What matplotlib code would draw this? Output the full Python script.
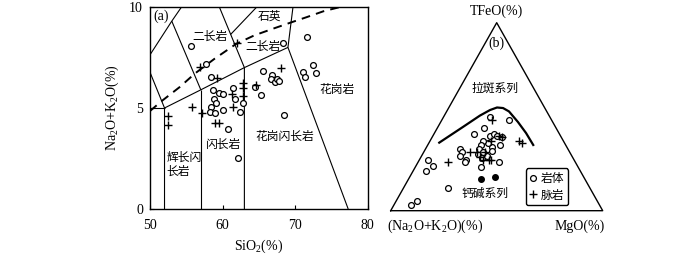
import numpy as np
import matplotlib
matplotlib.use('Agg')
import matplotlib.pyplot as plt
from matplotlib.lines import Line2D
from matplotlib.font_manager import FontProperties

plt.rcParams['font.family'] = ['Liberation Serif', 'Noto Sans CJK SC', 'DejaVu Sans']
plt.rcParams['mathtext.fontset'] = 'custom'
plt.rcParams['mathtext.rm'] = 'Liberation Serif'
plt.rcParams['mathtext.it'] = 'Liberation Serif:italic'
CJK = ['Noto Sans CJK SC', 'DejaVu Sans']

# ---------------- Panel (a): TAS data ----------------
rock_sio2 = [55.6, 57.7, 58.4, 58.7, 59.55, 60.0, 61.5, 61.7, 62.85, 58.85, 59.1, 58.4,
             58.25, 58.95, 60.1, 62.4, 60.7, 62.15, 65.5, 66.85, 66.6, 67.2, 67.55, 67.8,
             64.45, 65.3, 68.5, 68.35, 71.65, 72.5, 72.85, 71.05, 71.35]
rock_alk = [8.07, 7.16, 6.55, 5.89, 5.73, 5.69, 5.98, 5.43, 5.26, 5.45, 5.26, 5.03,
            4.82, 4.77, 4.90, 4.82, 3.96, 2.51, 6.83, 6.65, 6.42, 6.29, 6.42, 6.35,
            6.04, 5.64, 4.65, 8.20, 8.50, 7.13, 6.75, 6.80, 6.55]
dyke_sio2 = [62.0, 56.9, 59.2, 62.85, 62.85, 62.75, 61.4, 55.75, 57.1, 52.5, 52.45,
             68.05, 64.6, 58.95, 59.55, 61.3]
dyke_alk = [8.20, 7.04, 6.47, 6.22, 5.98, 5.59, 5.06, 5.03, 4.77, 4.60, 4.16,
            6.97, 6.12, 4.24, 4.24, 5.70]

# classification boundaries (SiO2, Na2O+K2O)
boundaries = [
    [(49.4, 7.3), (53, 9.3), (57.6, 11.7)],
    [(53, 9.3), (57, 5.9)],
    [(49.4, 7.3), (52, 5)],
    [(45, 5), (52, 5)],
    [(52, 0), (52, 5), (57, 5.9), (63, 7), (69, 8), (77.3, 0)],
    [(57, 0), (57, 5.9)],
    [(63, 0), (63, 7), (57.6, 11.7)],
    [(61.1, 8.64), (65.5, 10.3)],
    [(69, 8), (69.8, 10.3)],
]
alk_line_sio2 = [50.0, 51.56, 54.1, 56.16, 58.9, 61.9, 64.4, 66.98, 69.3, 71.6, 73.9, 76.2, 77.0]
alk_line_alk = [4.85, 5.33, 6.04, 6.70, 7.44, 8.18, 8.60, 8.93, 9.22, 9.50, 9.79, 10.0, 10.08]

field_labels = [
    ("(a)", 51.6, 9.52, 'serif'),
    ("二长岩", 58.2, 8.53, 'cjk'),
    ("石英", 66.5, 9.55, 'cjk'),
    ("二长岩", 65.6, 8.03, 'cjk'),
    ("花岗岩", 75.7, 5.93, 'cjk'),
    ("花岗闪长岩", 68.6, 3.61, 'cjk'),
    ("闪长岩", 60.0, 3.22, 'cjk'),
]

x_ticks = [50, 60, 70, 80]
y_ticks = [0, 5, 10]

# ---------------- Panel (b): AFM data ----------------
rock_A = [28, 20, 34, 40, 33, 31, 30, 28, 31, 35, 36, 36, 38, 42, 44, 43, 51, 51, 53, 51,
          52, 40, 46, 36, 69, 68, 73, 67, 89, 85, 40, 42, 41]
rock_F = [50, 48, 44, 41, 40, 41, 40, 39, 35, 34, 32, 36, 37, 31, 30, 28, 33, 31, 29, 27,
          26, 29, 23, 26, 27, 24, 21, 12, 3, 5, 35, 33, 31]
rock_M = [22, 32, 22, 19, 27, 28, 30, 33, 34, 31, 32, 28, 25, 27, 26, 29, 16, 18, 18, 22,
          22, 31, 31, 38, 4, 8, 6, 21, 8, 10, 25, 25, 28]
dyke_A = [28, 21, 20, 29, 28, 34, 40, 47, 43, 43, 40, 39, 60, 44]
dyke_F = [48, 37, 36, 40, 39, 37, 31, 31, 31, 27, 27, 27, 26, 29]
dyke_M = [24, 42, 44, 31, 33, 29, 29, 22, 25, 30, 33, 34, 14, 28]
dot_A = [49, 42]
dot_F = [17, 18]
dot_M = [34, 40]
curve_A = [59.0, 43.6, 32.6, 26.4, 22.4, 19.7, 17.8, 16.4, 15.5, 15.3]
curve_F = [36.2, 44.5, 50.6, 53.6, 54.9, 54.6, 52.8, 47.2, 41.3, 35.0]
curve_M = [4.8, 11.8, 16.8, 20.1, 22.7, 25.7, 29.4, 36.5, 43.2, 49.8]


def afm_xy(A, F, M):
    A = np.asarray(A, float); F = np.asarray(F, float); M = np.asarray(M, float)
    s = A + F + M
    f = F / s
    m = M / s
    return m + f / 2.0, f


fig = plt.figure(figsize=(7.0, 2.59), dpi=100)

# ---------- axes a ----------
ax = fig.add_axes([150/700, 50/259, 217.8/700, 202/259])
ax.set_xlim(50, 80)
ax.set_ylim(0, 10)
for seg in boundaries:
    xs, ys = zip(*seg)
    ax.plot(xs, ys, color='black', lw=0.8, solid_capstyle='butt')
ax.plot(alk_line_sio2, alk_line_alk, color='black', lw=1.4, dashes=(4.5, 3.2))
ax.plot(rock_sio2, rock_alk, linestyle='none', marker='o', ms=4.2, mfc='white',
        mec='black', mew=0.9, zorder=3)
ax.plot(dyke_sio2, dyke_alk, linestyle='none', marker='+', ms=6, mec='black',
        mew=1.0, zorder=3)
for txt, x, y, kind in field_labels:
    if kind == 'cjk':
        ax.text(x, y, txt, family=CJK, fontsize=8.5, ha='center', va='center')
    else:
        ax.text(x, y, txt, fontsize=10, ha='center', va='center')
ax.text(52.25, 2.2, "辉长闪\n长岩", family=CJK, fontsize=8.5, ha='left', va='center',
        linespacing=1.15)
ax.set_xticks(x_ticks)
ax.set_yticks(y_ticks)
ax.tick_params(direction='in', length=3, width=0.8, labelsize=10, pad=5)
ax.tick_params(axis='x', pad=7)
for sp in ax.spines.values():
    sp.set_linewidth(1.0)
ax.set_xlabel(r'SiO$_2$(%)', fontsize=10, labelpad=4)
ax.set_ylabel(r'Na$_2$O+K$_2$O(%)', fontsize=10, labelpad=6)

# ---------- axes b ----------
bx = fig.add_axes([390.7/700, 48.3/259, 212/700, 188/259])
bx.set_xlim(0, 1)
bx.set_ylim(0, 1)
bx.axis('off')
tri_x, tri_y = afm_xy([100, 0, 0, 100], [0, 0, 100, 0], [0, 100, 0, 0])
bx.plot(tri_x, tri_y, color='black', lw=1.0, clip_on=False)
cx, cy = afm_xy(curve_A, curve_F, curve_M)
bx.plot(cx, cy, color='black', lw=1.6, clip_on=False)
rx, ry = afm_xy(rock_A, rock_F, rock_M)
bx.plot(rx, ry, linestyle='none', marker='o', ms=4.2, mfc='white', mec='black',
        mew=0.9, clip_on=False, zorder=3)
dx, dy = afm_xy(dyke_A, dyke_F, dyke_M)
bx.plot(dx, dy, linestyle='none', marker='+', ms=6, mec='black', mew=1.0,
        clip_on=False, zorder=3)
ox, oy = afm_xy(dot_A, dot_F, dot_M)
bx.plot(ox, oy, linestyle='none', marker='o', ms=4.0, mfc='black', mec='black',
        clip_on=False, zorder=3)

bx.text(0.5, 1.059, 'TFeO(%)', fontsize=10, ha='center', va='center')
bx.text(0.5, 0.89, '(b)', fontsize=10, ha='center', va='center')
bx.text(0.492, 0.651, '拉斑系列', family=CJK, fontsize=8.5, ha='center', va='center')
bx.text(0.445, 0.0926, '钙碱系列', family=CJK, fontsize=8.5, ha='center', va='center')
bx.text(0.209, -0.081, r'(Na$_2$O+K$_2$O)(%)', fontsize=10, ha='center', va='center')
bx.text(0.890, -0.081, 'MgO(%)', fontsize=10, ha='center', va='center')

handles = [
    Line2D([], [], linestyle='none', marker='o', ms=4.2, mfc='white', mec='black', mew=0.9),
    Line2D([], [], linestyle='none', marker='+', ms=6, mec='black', mew=1.0),
]
leg = bx.legend(handles, ['岩体', '脉岩'], prop=FontProperties(family=CJK, size=8.5),
                loc='lower left', bbox_to_anchor=(0.637, 0.03), borderaxespad=0,
                handlelength=0.7, handletextpad=0.3, borderpad=0.3, labelspacing=0.3,
                frameon=True, fancybox=True, framealpha=1)
leg.get_frame().set_edgecolor('black')
leg.get_frame().set_linewidth(1.0)

fig.savefig('out.png', dpi=100)
